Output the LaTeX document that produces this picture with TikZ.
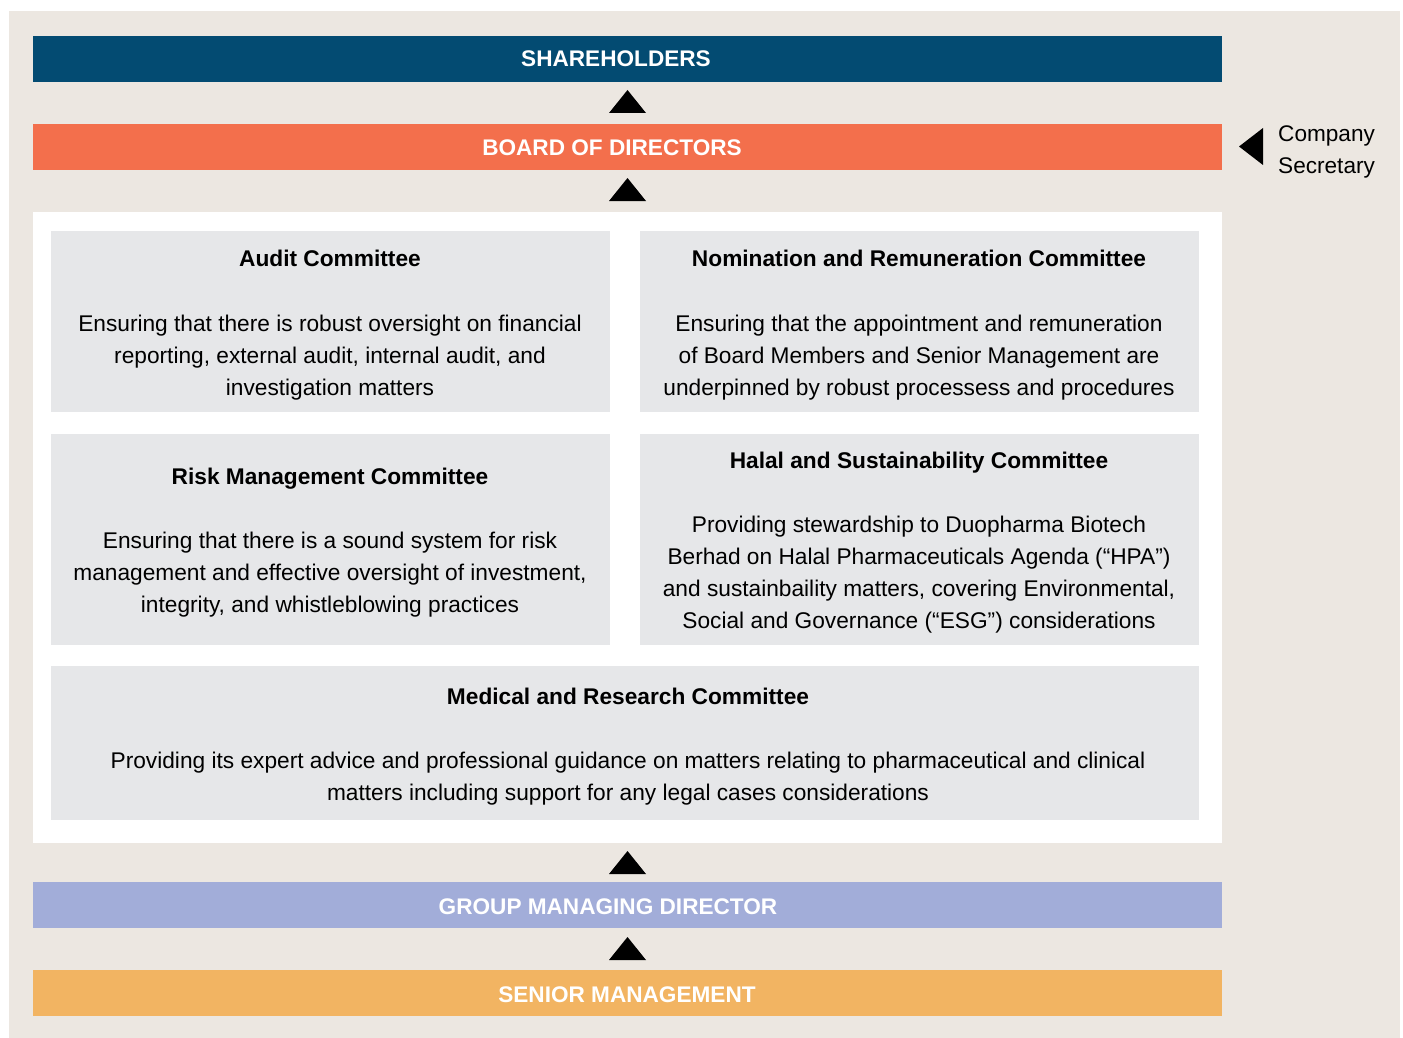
\documentclass[tikz,border=0pt]{standalone}
\usepackage{fontspec}
\setmainfont{Liberation Sans}
\definecolor{bgbeige}{HTML}{ECE7E1}
\definecolor{navy}{HTML}{034B72}
\definecolor{coral}{HTML}{F36F4C}
\definecolor{lavender}{HTML}{A2ADD9}
\definecolor{amber}{HTML}{F2B462}
\definecolor{boxgrey}{HTML}{E6E7E9}
\tikzset{
  x=1pt, y=-1pt,
  bartext/.style={anchor=base, inner sep=0pt, text=white, font=\fontsize{22.6}{32}\selectfont\bfseries},
  titletext/.style={anchor=base, inner sep=0pt, font=\fontsize{22.7}{32}\selectfont\bfseries},
  bodytext/.style={anchor=base, inner sep=0pt, font=\fontsize{22.7}{32}\selectfont},
  sidetext/.style={anchor=base west, inner sep=0pt, font=\fontsize{22.6}{32}\selectfont},
  uptri/.style={fill=black},
}
\newcommand{\uptriangle}[1]{\fill[uptri] (609,#1+23) -- (627.5,#1) -- (646,#1+23) -- cycle;}
\begin{document}
\begin{tikzpicture}
\useasboundingbox (0,0) rectangle (1403,1038);
\fill[white] (0,0) rectangle (1403,1038);
\fill[bgbeige] (9,11) rectangle (1400,1038);
% bars
\fill[navy] (33,36) rectangle (1222,82);
\node[bartext] (sh) at (616,67) {SHAREHOLDERS};
\fill[coral] (33,124) rectangle (1222,170);
\node[bartext] (bod) at (612,156) {BOARD OF DIRECTORS};
\fill[lavender] (33,882) rectangle (1222,928);
\node[bartext] (gmd) at (608,914) {GROUP MANAGING DIRECTOR};
\fill[amber] (33,970) rectangle (1222,1016);
\node[bartext] (sm) at (627,1002) {SENIOR MANAGEMENT};
% triangles
\uptriangle{90}
\uptriangle{178}
\uptriangle{851}
\uptriangle{937}
\fill[uptri] (1239,146.5) -- (1263,128) -- (1263,165) -- cycle;
\node[sidetext] (cs1) at (1278,142) {Company};
\node[sidetext] (cs2) at (1278,173) {Secretary};
% white panel
\fill[white] (33,212) rectangle (1222,843);
% committee boxes
\fill[boxgrey] (51,231) rectangle (610,412);
\fill[boxgrey] (640,231) rectangle (1199,412);
\fill[boxgrey] (51,434) rectangle (610,645);
\fill[boxgrey] (640,434) rectangle (1199,645);
\fill[boxgrey] (51,666) rectangle (1199,820);
% Audit
\node[titletext] (ac) at (330,266) {Audit Committee};
\foreach \t [count=\i] in {{Ensuring that there is robust oversight on financial},{reporting, external audit, internal audit, and},{investigation matters}}
  \node[bodytext] (ac-\i) at (330,331+32*\i-32) {\t};
% NRC
\node[titletext] (nrc) at (919,266) {Nomination and Remuneration Committee};
\foreach \t [count=\i] in {{Ensuring that the appointment and remuneration},{of Board Members and Senior Management are},{underpinned by robust processess and procedures}}
  \node[bodytext] (nrc-\i) at (919,331+32*\i-32) {\t};
% Risk
\node[titletext] (rmc) at (330,484) {Risk Management Committee};
\foreach \t [count=\i] in {{Ensuring that there is a sound system for risk},{management and effective oversight of investment,},{integrity, and whistleblowing practices}}
  \node[bodytext] (rmc-\i) at (330,548+32*\i-32) {\t};
% Halal
\node[titletext] (hsc) at (919,468) {Halal and Sustainability Committee};
\foreach \t [count=\i] in {{Providing stewardship to Duopharma Biotech},{Berhad on Halal Pharmaceuticals Agenda (“HPA”)},{and sustainbaility matters, covering Environmental,},{Social and Governance (“ESG”) considerations}}
  \node[bodytext] (hsc-\i) at (919,532+32*\i-32) {\t};
% Medical
\node[titletext] (mrc) at (628,704) {Medical and Research Committee};
\foreach \t [count=\i] in {{Providing its expert advice and professional guidance on matters relating to pharmaceutical and clinical},{matters including support for any legal cases considerations}}
  \node[bodytext] (mrc-\i) at (628,768+32*\i-32) {\t};
\end{tikzpicture}
\end{document}
